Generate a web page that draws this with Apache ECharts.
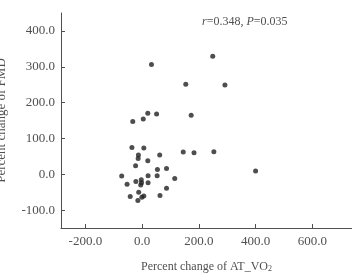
<!DOCTYPE html>
<html>
<head>
<meta charset="utf-8">
<script src="https://cdn.jsdelivr.net/npm/echarts@6/dist/echarts.min.js"></script>
<style>
  html, body { margin: 0; padding: 0; background: #fff; }
  #chart { width: 352px; height: 273px; }
</style>
</head>
<body>
<div id="chart"></div>
<script>
// percent change of AT_VO2 (x) vs percent change of FMD (y)
const atVo2 = [33, 249, 154, 292, 20, 51, -33, 4, 173, -36, 6, -13, -14, 62, 145, 183, 253, 400, 20, -23,
  -72, 21, 53, 54, 86, 115, -22, -3, -2, -5, 21, -53, -12, -42, -1, 6, -15, 63, 86]
const fmd = [306, 329, 251, 249, 170, 168, 147, 154, 165, 75, 73, 54, 44, 54, 62, 60, 63, 9, 38, 24,
  -5, -4, -4, 13, 16, -12, -20, -15, -24, -30, -24, -28, -50, -62, -64, -61, -73, -59, -39]
const xTicks = [-200, 0, 200, 400, 600]
const yTicks = [-100, 0, 100, 200, 300, 400]

const points = atVo2.map((x, i) => [x, fmd[i]])
const serif = '"Liberation Serif", "DejaVu Serif", serif'
const grey = '#505050'

const myChart = echarts.init(document.getElementById('chart'))
myChart.setOption({
  animation: false,
  textStyle: { fontFamily: serif },
  title: {
    left: 197,
    top: 11,
    text: '{i|r}=0.348, {i|P}=0.035',
    textStyle: {
      fontFamily: serif,
      fontSize: 12,
      fontWeight: 'normal',
      color: grey,
      rich: { i: { fontFamily: serif, fontSize: 12, fontStyle: 'italic', color: grey } }
    }
  },
  grid: { left: 61, right: 0, top: 13, bottom: 45, containLabel: false, outerBoundsMode: 'none' },
  xAxis: {
    type: 'value',
    min: -286,
    max: 740,
    splitLine: { show: false },
    axisLine: { onZero: false, lineStyle: { color: grey } },
    axisTick: { inside: true, length: 4, customValues: xTicks, lineStyle: { color: grey } },
    axisLabel: {
      customValues: xTicks,
      color: grey,
      fontSize: 13,
      fontFamily: serif,
      margin: 7,
      formatter: v => v.toFixed(1)
    },
    name: 'Percent change of AT_VO{sub|2}',
    nameLocation: 'middle',
    nameGap: 32,
    nameTextStyle: {
      color: grey,
      fontSize: 12,
      fontFamily: serif,
      rich: { sub: { fontSize: 8, fontFamily: serif, color: grey, padding: [5, 0, 0, 0] } }
    }
  },
  yAxis: {
    type: 'value',
    min: -150,
    max: 450,
    splitLine: { show: false },
    axisLine: { show: true, onZero: false, lineStyle: { color: grey } },
    axisTick: { show: true, inside: true, length: 4, customValues: yTicks, lineStyle: { color: grey } },
    axisLabel: {
      customValues: yTicks,
      color: grey,
      fontSize: 13,
      fontFamily: serif,
      margin: 6,
      formatter: v => v.toFixed(1)
    },
    name: 'Percent change of FMD',
    nameLocation: 'middle',
    nameGap: 53,
    nameTextStyle: { color: grey, fontSize: 13, fontFamily: serif }
  },
  series: [{
    type: 'scatter',
    data: points,
    symbolSize: 5,
    itemStyle: { color: '#222' }
  }]
})
</script>
</body>
</html>
